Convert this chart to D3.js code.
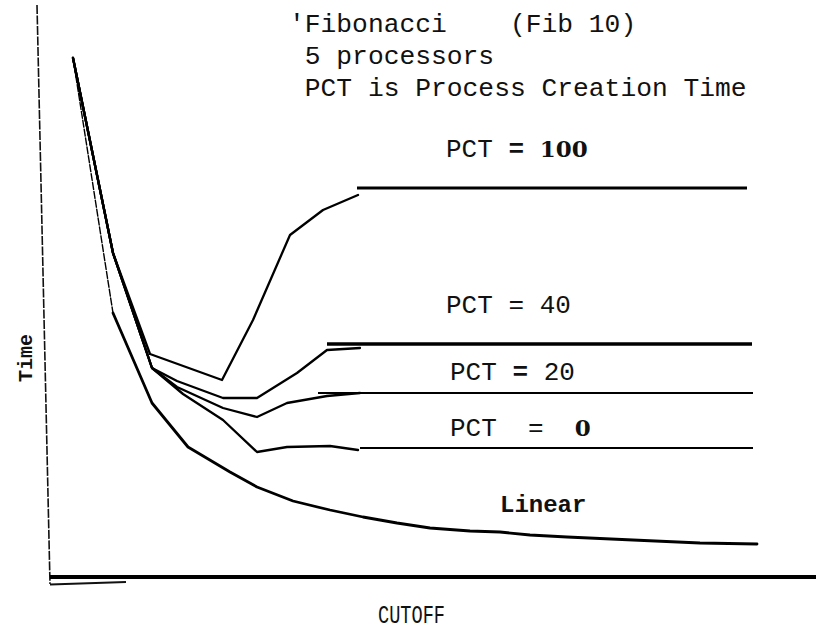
<!DOCTYPE html>
<html>
<head>
<meta charset="utf-8">
<script src="https://cdn.jsdelivr.net/npm/d3@7"></script>
<style>
  body { margin: 0; background: #fff; }
  svg { display: block; }
  text { fill: #111; }
</style>
</head>
<body>
<div id="chart"></div>
<script>
// values (cutoff units, time units)
const startCurve = [[1.15, 51.9], [3.15, 32.4]];

const pct100 = [[5.0, 22.3], [8.6, 19.7], [10.15, 25.7], [12.0, 34.2], [13.65, 36.7], [15.4, 38.2]];
const pct40 = [[5.1, 20.9], [6.35, 19.6], [8.65, 17.9], [10.35, 17.9], [12.35, 20.4], [13.85, 22.7], [15.5, 22.9]];
const pct20 = [[5.1, 20.9], [6.35, 19.0], [8.65, 16.9], [10.35, 16.0], [11.85, 17.4], [13.85, 18.1], [15.5, 18.4]];
const pct0 = [[5.1, 20.9], [6.65, 18.3], [8.65, 15.7], [10.35, 12.5], [11.85, 13.0], [14.0, 13.1], [15.4, 12.7]];

const linearDashed = [[1.15, 51.9], [3.15, 26.4]];
const linear = [[3.15, 26.4], [5.1, 17.4], [6.9, 13.0], [9.0, 10.5], [10.35, 9.0], [12.15, 7.6],
  [14.0, 6.7], [15.65, 6.0], [17.35, 5.4], [19.0, 4.9], [21.0, 4.6], [22.5, 4.5], [24.0, 4.2],
  [25.85, 4.0], [29.15, 3.7], [32.5, 3.4], [35.35, 3.3]];

// asymptote levels: [label, time, xStart, xEnd]
const asymptotes = [
  ['100', 38.9, 15.35, 34.85],
  ['40', 23.3, 13.85, 35.1],
  ['20', 18.4, 13.4, 35.15],
  ['0', 12.9, 15.5, 35.15]
];

const titleLines = ["'Fibonacci    (Fib 10)", " 5 processors", " PCT is Process Creation Time"];

const W = 816, H = 634;

const svg = d3.select('#chart')
  .append('svg')
  .attr('width', W)
  .attr('height', H);

// Set up scales (pixel frame of the scan)
const x = d3.scaleLinear().domain([0, 38]).range([50, 810]);
const y = d3.scaleLinear().domain([0, 57.7]).range([577, 0]);

const line = d3.line()
  .x(d => x(d[0]))
  .y(d => y(d[1]));

// Axes, drawn by hand like the original
svg.append('line')
  .attr('x1', 37).attr('y1', 5)
  .attr('x2', 50).attr('y2', 584)
  .attr('stroke', '#111')
  .attr('stroke-width', 1.6)
  .attr('stroke-dasharray', '9,1.5');

svg.append('line')
  .attr('x1', 50).attr('y1', y(0))
  .attr('x2', W).attr('y2', y(0))
  .attr('stroke', '#000')
  .attr('stroke-width', 4);

svg.append('line')
  .attr('x1', 50).attr('y1', 584.5)
  .attr('x2', 126).attr('y2', 582)
  .attr('stroke', '#111')
  .attr('stroke-width', 2);

// Curves
const curveG = svg.append('g')
  .attr('fill', 'none')
  .attr('stroke', '#000')
  .attr('stroke-linejoin', 'round')
  .attr('stroke-linecap', 'round');

[pct100, pct40, pct20, pct0].forEach(s => {
  curveG.append('path')
    .attr('d', line(startCurve.concat(s)))
    .attr('stroke-width', 2.3);
});

curveG.append('path')
  .attr('d', line(linearDashed))
  .attr('stroke-width', 1.4)
  .attr('stroke-dasharray', '7,2');

curveG.append('path')
  .attr('d', line(linear))
  .attr('stroke-width', 2.8);

// Asymptote lines
const widths = { '100': 3, '40': 3.5, '20': 2, '0': 2 };
svg.selectAll('.asym')
  .data(asymptotes)
  .enter()
  .append('line')
  .attr('class', 'asym')
  .attr('x1', d => x(d[2]))
  .attr('x2', d => x(d[3]))
  .attr('y1', d => y(d[1]))
  .attr('y2', d => y(d[1]))
  .attr('stroke', '#000')
  .attr('stroke-width', d => widths[d[0]]);

// Labels
const mono = '"Liberation Mono", "DejaVu Sans Mono", monospace';
const serifBold = '"DejaVu Serif", serif';

function pctLabel(px, py, gap, value, boldEq) {
  const t = svg.append('text')
    .attr('x', px)
    .attr('y', py)
    .style('white-space', 'pre')
    .style('font-family', mono)
    .style('font-size', '26px');
  t.append('tspan').text('PCT ' + gap);
  t.append('tspan')
    .style('font-weight', boldEq ? 'bold' : 'normal')
    .text('=');
  t.append('tspan').text(' ' + gap);
  const v = t.append('tspan').text(value);
  if (value === '100' || value === '0') {
    v.style('font-family', serifBold).style('font-weight', 'bold').style('font-size', '23px');
  }
}

pctLabel(x(19.8), y(42.0), '', '100', true);
pctLabel(x(19.8), y(26.4), '', '40', false);
pctLabel(x(20.0), y(19.7), '', '20', true);
pctLabel(x(20.0), y(14.1), ' ', '0', false);

svg.append('text')
  .attr('x', x(22.5))
  .attr('y', y(6.5))
  .style('font-family', mono)
  .style('font-weight', 'bold')
  .style('font-size', '24px')
  .text('Linear');

// Title block
svg.selectAll('.title')
  .data(titleLines)
  .enter()
  .append('text')
  .attr('class', 'title')
  .attr('x', 289)
  .attr('y', (d, i) => 32 + i * 32)
  .style('white-space', 'pre')
  .style('font-family', mono)
  .style('font-size', '26.3px')
  .text(d => d);

// Axis titles
svg.append('text')
  .attr('transform', 'translate(32,358) rotate(-90)')
  .style('text-anchor', 'middle')
  .style('font-family', mono)
  .style('font-weight', 'bold')
  .style('font-size', '20px')
  .text('Time');

svg.append('text')
  .attr('x', 378)
  .attr('y', 623)
  .attr('textLength', 67)
  .attr('lengthAdjust', 'spacingAndGlyphs')
  .style('font-family', mono)
  .style('font-size', '25px')
  .text('CUTOFF');
</script>
</body>
</html>
